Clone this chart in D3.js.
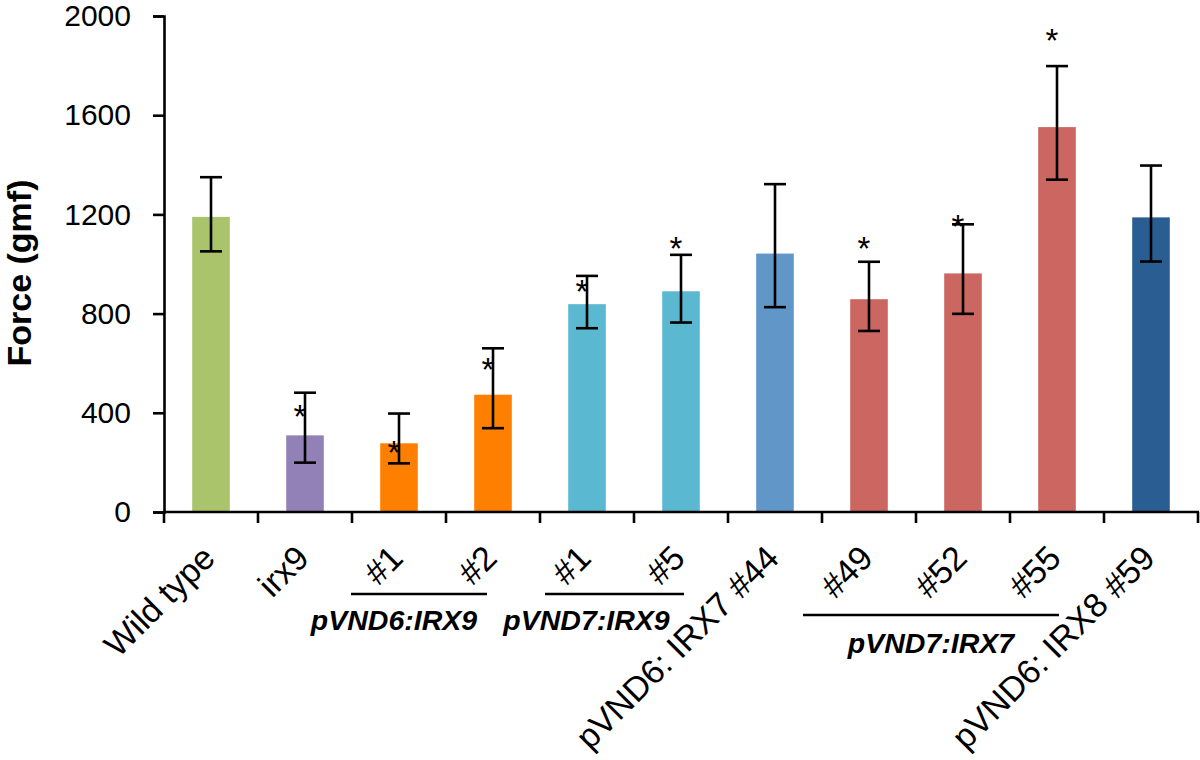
<!DOCTYPE html>
<html>
<head>
<meta charset="utf-8">
<script src="https://cdn.jsdelivr.net/npm/d3@7"></script>
<style>
  html, body { margin: 0; padding: 0; background: #fff; }
  svg { display: block; font-family: "Liberation Sans", Arial, Helvetica, sans-serif; }
</style>
</head>
<body>
<svg id="chart" width="1200" height="760"></svg>
<script>
// ---- data ----
const categories = ["Wild type", "irx9", "#1", "#2", "#1", "#5", "pVND6: IRX7 #44", "#49", "#52", "#55", "pVND6: IRX8 #59"];
const forceMean  = [1190, 309, 277, 473, 838, 890, 1042, 858, 962, 1552, 1188];
const errorTop   = [1350, 481, 397, 660, 952, 1037, 1322, 1009, 1160, 1798, 1397];
const errorBottom= [1051, 199, 196, 338, 741, 764, 826, 730, 799, 1340, 1010];
const starLevel  = [null, 411, 268, 602, 915, 1088, null, 1088, 1176, 1926, null];
const barColors  = ["#a9c46b", "#9281b6", "#ff7f00", "#ff7f00", "#5bb8d1", "#5bb8d1", "#6096c8", "#cc6660", "#cc6660", "#cc6660", "#2a5d92"];
const yTicks     = [0, 400, 800, 1200, 1600, 2000];
const groupNames = ["pVND6:IRX9", "pVND7:IRX9", "pVND7:IRX7"];
const groupFirst = [2, 4, 7];
const groupLast  = [3, 5, 9];
const yTitle     = "Force (gmf)";

// ---- layout ----
const plotLeft = 164, plotRight = 1198, plotTop = 16, plotBottom = 512;
const svg = d3.select("#chart");

const x = d3.scaleBand()
  .domain(d3.range(categories.length))
  .range([plotLeft, plotRight])
  .paddingInner(0.6)
  .paddingOuter(0.3);
const step = x.step();
const y = d3.scaleLinear().domain([0, 2000]).range([plotBottom, plotTop]);

// bars
svg.append("g").selectAll("rect")
  .data(d3.range(categories.length))
  .join("rect")
  .attr("x", i => x(i))
  .attr("width", x.bandwidth())
  .attr("y", i => y(forceMean[i]))
  .attr("height", i => y(0) - y(forceMean[i]))
  .attr("fill", i => barColors[i]);

// error bars
const capHalf = 11;
const eg = svg.append("g").attr("stroke", "#000").attr("stroke-width", 2.6).attr("fill", "none");
d3.range(categories.length).forEach(i => {
  const cx = x(i) + x.bandwidth() / 2;
  eg.append("line").attr("x1", cx).attr("x2", cx).attr("y1", y(errorTop[i])).attr("y2", y(errorBottom[i]));
  eg.append("line").attr("x1", cx - capHalf).attr("x2", cx + capHalf).attr("y1", y(errorTop[i])).attr("y2", y(errorTop[i]));
  eg.append("line").attr("x1", cx - capHalf).attr("x2", cx + capHalf).attr("y1", y(errorBottom[i])).attr("y2", y(errorBottom[i]));
});

// significance stars
svg.append("g").selectAll("text")
  .data(d3.range(categories.length).filter(i => starLevel[i] !== null))
  .join("text")
  .attr("x", i => x(i) + x.bandwidth() / 2 - 5)
  .attr("y", i => y(starLevel[i]) + 18)
  .attr("text-anchor", "middle")
  .attr("font-size", 33)
  .attr("fill", "#000")
  .text("*");

// y axis
const yAxis = d3.axisLeft(y).tickValues(yTicks).tickSize(11).tickPadding(22).tickFormat(d3.format("d"));
const gy = svg.append("g").attr("transform", `translate(${plotLeft},0)`).call(yAxis);
gy.select(".domain").attr("stroke", "#000").attr("stroke-width", 2.6);
gy.selectAll(".tick line").attr("stroke", "#000").attr("stroke-width", 2.6);
gy.selectAll(".tick text").attr("font-size", 30).attr("fill", "#000")
  .attr("font-family", "'Liberation Sans', Arial, Helvetica, sans-serif");

// x axis line + ticks at band boundaries
const xg = svg.append("g").attr("stroke", "#000").attr("stroke-width", 2.6);
xg.append("line").attr("x1", plotLeft - 1).attr("x2", plotRight + 1).attr("y1", plotBottom).attr("y2", plotBottom);
d3.range(categories.length + 1).forEach(k => {
  const tx = plotLeft + k * step;
  xg.append("line").attr("x1", tx).attr("x2", tx).attr("y1", plotBottom).attr("y2", plotBottom + 11);
});

// x labels (rotated)
svg.append("g").selectAll("text")
  .data(d3.range(categories.length))
  .join("text")
  .attr("transform", i => `translate(${x(i) + x.bandwidth() / 2 + 6},${plotBottom + 48}) rotate(-45)`)
  .attr("text-anchor", "end")
  .attr("font-size", 34)
  .attr("fill", "#000")
  .text(i => categories[i]);

// group lines and labels
const groupLayout = [
  { lineY: 594, x1: -48, x2: -6, textDx: -25, textY: 630 },
  { lineY: 594, x1: -42, x2: 3, textDx: -28, textY: 630 },
  { lineY: 615, x1: -66, x2: 2, textDx: 0, textY: 653 }
];
const gg = svg.append("g");
groupNames.forEach((name, g) => {
  const L = groupLayout[g];
  const xs = x(groupFirst[g]) + x.bandwidth() / 2 + L.x1;
  const xe = x(groupLast[g]) + x.bandwidth() / 2 + L.x2;
  gg.append("line").attr("x1", xs).attr("x2", xe).attr("y1", L.lineY).attr("y2", L.lineY)
    .attr("stroke", "#000").attr("stroke-width", 2.4);
  gg.append("text")
    .attr("x", (xs + xe) / 2 + L.textDx)
    .attr("y", L.textY)
    .attr("text-anchor", "middle")
    .attr("font-size", 28.5)
    .attr("font-weight", "bold")
    .attr("font-style", "italic")
    .attr("fill", "#000")
    .text(name);
});

// y title
svg.append("text")
  .attr("transform", `translate(31,${273}) rotate(-90)`)
  .attr("text-anchor", "middle")
  .attr("font-size", 34)
  .attr("font-weight", "bold")
  .attr("fill", "#000")
  .text(yTitle);
</script>
</body>
</html>
